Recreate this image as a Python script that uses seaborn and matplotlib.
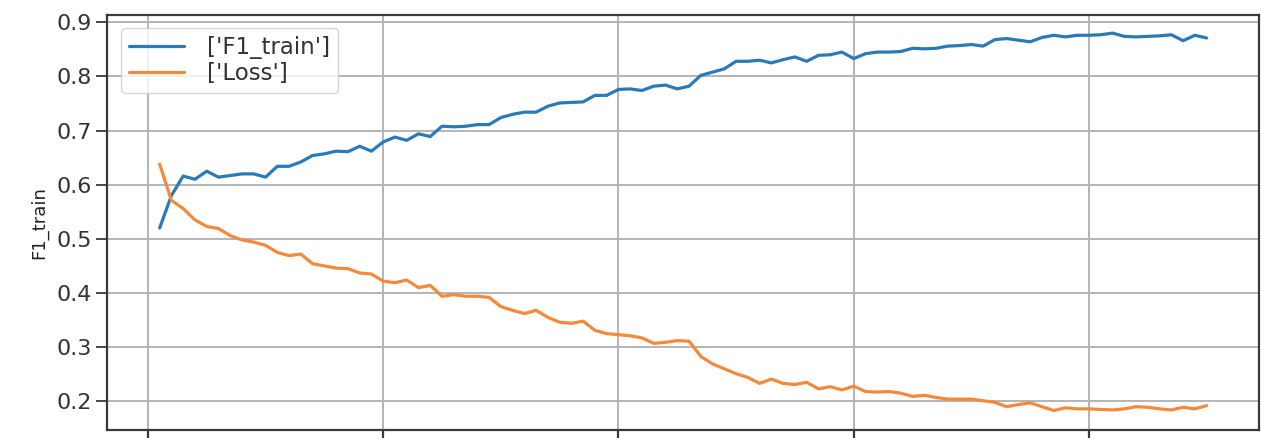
import matplotlib
matplotlib.use("Agg")
import matplotlib.pyplot as plt
import seaborn as sns
import numpy as np

# Training history: per-epoch F1 on the training set and the loss
epochs = list(range(1, 91))

f1_train = [
    0.520, 0.580, 0.616, 0.610, 0.625, 0.614, 0.617, 0.620, 0.620, 0.614,
    0.634, 0.634, 0.642, 0.654, 0.657, 0.662, 0.661, 0.671, 0.662, 0.679,
    0.688, 0.682, 0.694, 0.689, 0.708, 0.707, 0.708, 0.711, 0.711, 0.724,
    0.730, 0.734, 0.734, 0.745, 0.751, 0.752, 0.753, 0.765, 0.765, 0.776,
    0.777, 0.774, 0.782, 0.784, 0.777, 0.782, 0.802, 0.808, 0.814, 0.828,
    0.828, 0.830, 0.825, 0.831, 0.836, 0.828, 0.839, 0.840, 0.845, 0.833,
    0.842, 0.845, 0.845, 0.846, 0.852, 0.851, 0.852, 0.856, 0.857, 0.859,
    0.856, 0.868, 0.870, 0.867, 0.864, 0.872, 0.876, 0.873, 0.876, 0.876,
    0.877, 0.880, 0.874, 0.873, 0.874, 0.875, 0.877, 0.866, 0.876, 0.871,
]

loss = [
    0.638, 0.571, 0.556, 0.535, 0.523, 0.519, 0.506, 0.498, 0.494, 0.488,
    0.475, 0.469, 0.472, 0.454, 0.450, 0.446, 0.445, 0.437, 0.435, 0.422,
    0.419, 0.424, 0.410, 0.414, 0.394, 0.397, 0.394, 0.394, 0.392, 0.375,
    0.368, 0.362, 0.368, 0.355, 0.346, 0.344, 0.348, 0.331, 0.325, 0.323,
    0.321, 0.317, 0.307, 0.309, 0.312, 0.311, 0.283, 0.269, 0.260, 0.251,
    0.244, 0.233, 0.241, 0.233, 0.231, 0.235, 0.223, 0.227, 0.221, 0.228,
    0.218, 0.217, 0.218, 0.215, 0.209, 0.211, 0.207, 0.204, 0.204, 0.204,
    0.201, 0.198, 0.190, 0.194, 0.197, 0.190, 0.183, 0.188, 0.186, 0.186,
    0.185, 0.184, 0.186, 0.190, 0.189, 0.186, 0.184, 0.189, 0.186, 0.192,
]

series_labels = ["['F1_train']", "['Loss']"]
series_colors = ["#2a7ab8", "#f5893a"]
y_label = "F1_train"
x_ticks = [0, 20, 40, 60, 80]
y_ticks = [0.2, 0.3, 0.4, 0.5, 0.6, 0.7, 0.8, 0.9]

sns.set_theme(style="ticks", rc={
    "axes.grid": True,
    "grid.color": "#b4b4b4",
    "grid.linewidth": 1.4,
    "axes.edgecolor": "#3a3a3a",
    "axes.linewidth": 1.6,
})
plt.rcParams["font.family"] = ["DejaVu Sans"]

fig = plt.figure(figsize=(12.61, 4.38), dpi=100)
ax = fig.add_axes([0.0851, 0.0183, 0.9133, 0.9481])

for values, lab, col in zip([f1_train, loss], series_labels, series_colors):
    sns.lineplot(x=epochs, y=values, ax=ax, label=lab, color=col, linewidth=2.3)

ax.set_xlim(-3.45, 94.45)
ax.set_ylim(0.147, 0.914)
ax.set_xticks(x_ticks)
ax.set_yticks(y_ticks)
ax.set_yticklabels([f"{v:.1f}" for v in y_ticks])
ax.tick_params(axis="x", labelbottom=False, length=8, width=1.6, color="#3a3a3a")
ax.tick_params(axis="y", labelsize=16, length=8, width=1.3, pad=3,
               color="#3a3a3a", labelcolor="#333333")
ax.set_xlabel("")
ax.set_ylabel(y_label, fontsize=13, color="#222222", labelpad=6)

leg = ax.legend(loc="upper left", fontsize=16.5, handlelength=2.4,
                frameon=True, fancybox=True, framealpha=0.8,
                borderaxespad=0.6, labelspacing=0.1, borderpad=0.35,
                handletextpad=1.0)
leg.get_frame().set_edgecolor("#cccccc")
for t in leg.get_texts():
    t.set_color("#333333")

fig.savefig("out.png", dpi=100)
